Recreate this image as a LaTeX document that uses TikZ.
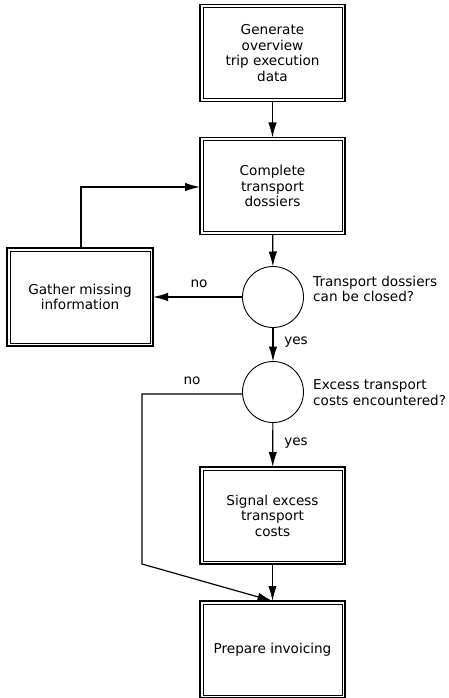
\documentclass[tikz,border=0pt]{standalone}
\usepackage{fontspec}
\setmainfont{DejaVu Sans}
\usetikzlibrary{arrows.meta}
\begin{document}
\begin{tikzpicture}[x=1pt,y=-1pt,
  every node/.style={font=\fontsize{13.6pt}{15.5pt}\selectfont},
  procbox/.style={draw, line width=1.2pt, minimum width=145pt, minimum height=97pt,
    inner sep=0pt, outer sep=0pt, align=center,
    path picture={\draw[line width=0.45pt]
      ([shift={(3pt,-3pt)}]path picture bounding box.north west) rectangle
      ([shift={(-3pt,3pt)}]path picture bounding box.south east);}},
  decision/.style={draw, circle, line width=0.9pt, minimum size=61pt, inner sep=0pt, outer sep=0pt},
  flow/.style={line width=1.2pt, -{Latex[length=15pt,width=8.5pt]}},
  question/.style={anchor=west, align=left, inner sep=0pt},
  lbl/.style={inner sep=0pt}
]
\useasboundingbox (0,0) rectangle (449,698);

% process steps
\node[procbox] (gen) at (272.5,53) {Generate\\overview\\trip execution\\data};
\node[procbox] (comp) at (272.5,186) {Complete\\transport\\dossiers};
\node[procbox, minimum width=146pt, minimum height=98pt] (gather) at (80,297) {Gather missing\\information};
\node[procbox] (signal) at (272.5,515.5) {Signal excess\\transport\\costs};
\node[procbox] (prep) at (272.5,649.5) {Prepare invoicing};

% decisions
\node[decision] (closed) at (273,297) {};
\node[decision] (excess) at (273,392) {};
\node[question] (closedq) at (313,289) {Transport dossiers\\can be closed?};
\node[question] (excessq) at (313,392.5) {Excess transport\\costs encountered?};

% connectors
\draw[flow] (gen) -- (comp);
\draw[flow] (comp) -- (closed);
\draw[flow] (closed) -- (gather);
\draw[flow] (gather.north -| 81,0) |- (comp.west |- 0,187);
\draw[flow] (closed) -- (excess);
\draw[flow] (excess) -- (signal);
\draw[flow] (signal) -- (prep);
\coordinate (bendA) at (142,394);
\coordinate (bendB) at (142,564);
\draw[flow] (excess.west |- bendA) -- (bendA) -- (bendB) -- (prep.north);

% branch labels
\node[lbl] (no1) at (199,284) {no};
\node[lbl] (yes1) at (296,342) {yes};
\node[lbl] (no2) at (192,381) {no};
\node[lbl] (yes2) at (296,443) {yes};
\end{tikzpicture}
\end{document}
